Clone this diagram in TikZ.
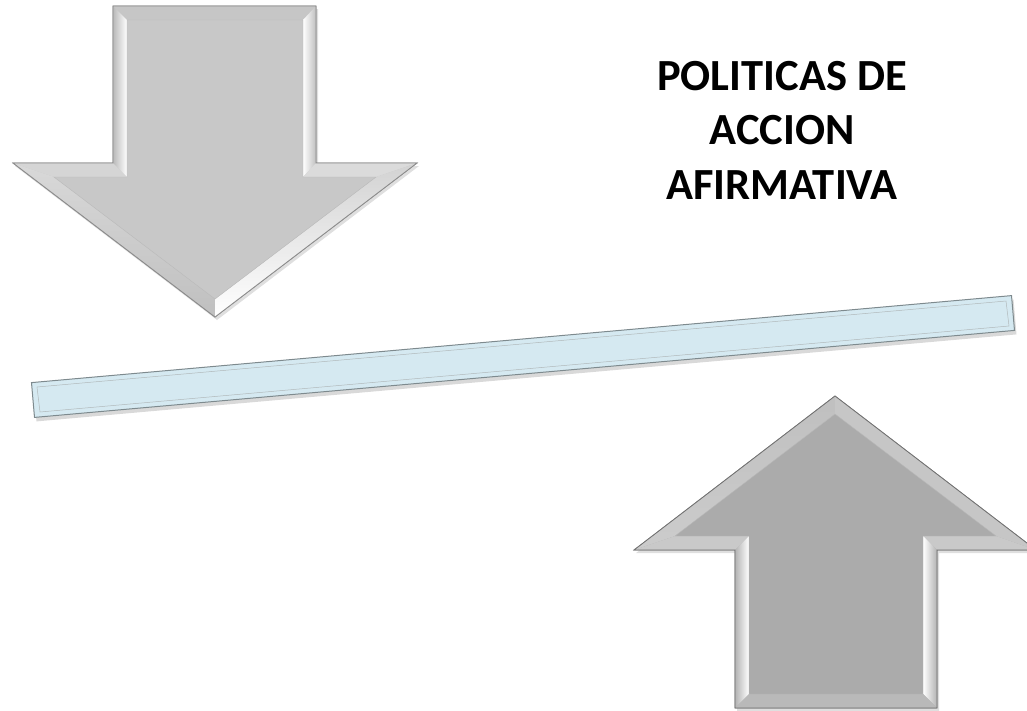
\documentclass[tikz,border=0pt]{standalone}
\usepackage{fontspec}
\setmainfont{Carlito}
\usetikzlibrary{shadows}
\definecolor{edgegray}{HTML}{8C8C8C}
\definecolor{dnbase}{HTML}{C8C8C8}
\definecolor{upbase}{HTML}{ABABAB}
\definecolor{barblue}{HTML}{D5E9F1}
\definecolor{baredge}{HTML}{7E8A8E}
\tikzset{
  arrowouter/.style={draw=edgegray, line width=0.8pt, line join=miter,
     drop shadow={opacity=0.25, shadow xshift=2pt, shadow yshift=-3pt}},
  face/.style={draw=none},
  innerline/.style={draw=edgegray!60, line width=0.4pt},
  barshape/.style={draw=baredge, line width=1pt, fill=barblue,
     drop shadow={opacity=0.3, shadow xshift=2pt, shadow yshift=-4pt}},
  title/.style={font=\bfseries\fontsize{44.5}{54.5}\selectfont, align=center, inner sep=0pt, anchor=north}
}
\begin{document}
\begin{tikzpicture}[x=1pt,y=-1pt]
\useasboundingbox (0,0) rectangle (1027,710);
\clip (0,0) rectangle (1027,710);

% ---------- down arrow ----------
\path[arrowouter, fill=dnbase] (113,6) -- (316,6) -- (316,163) -- (417,163) -- (215,317) -- (13,163) -- (113,163) -- cycle;
\fill[face, fill=gray!45] (113,6) -- (316,6) -- (303,20) -- (127,20) -- cycle;
\shade[face, left color=gray!55, right color=white] (113,6) -- (127,20) -- (127,177) -- (113,163) -- cycle;
\shade[face, left color=white, right color=gray!50] (316,6) -- (303,20) -- (303,177) -- (316,163) -- cycle;
\fill[face, fill=gray!33] (13,163) -- (113,163) -- (127,177) -- (54,177) -- cycle;
\fill[face, fill=gray!28] (316,163) -- (417,163) -- (376,177) -- (303,177) -- cycle;
\shade[face, top color=gray!30, bottom color=gray!50] (13,163) -- (54,177) -- (215,299) -- (215,317) -- cycle;
\shade[face, top color=gray!35, bottom color=white] (417,163) -- (376,177) -- (215,299) -- (215,317) -- cycle;
\path[innerline, fill=dnbase] (127,20) -- (303,20) -- (303,177) -- (376,177) -- (215,299) -- (54,177) -- (127,177) -- cycle;
\draw[edgegray, line width=0.8pt, line join=miter] (113,6) -- (316,6) -- (316,163) -- (417,163) -- (215,317) -- (13,163) -- (113,163) -- cycle;

% ---------- up arrow ----------
\path[arrowouter, fill=upbase] (835,396) -- (1036,550) -- (937,550) -- (937,708) -- (735,708) -- (735,550) -- (634,550) -- cycle;
\shade[face, top color=gray!50, bottom color=gray!40] (835,396) -- (835,414) -- (675,536) -- (634,550) -- cycle;
\fill[face, fill=gray!45] (835,396) -- (835,414) -- (996,536) -- (1036,550) -- cycle;
\fill[face, fill=gray!42] (634,550) -- (675,536) -- (749,536) -- (735,550) -- cycle;
\fill[face, fill=gray!42] (1036,550) -- (996,536) -- (923,536) -- (937,550) -- cycle;
\shade[face, left color=gray!60, right color=white] (735,550) -- (749,536) -- (749,694) -- (735,708) -- cycle;
\shade[face, left color=white, right color=gray!60] (937,550) -- (923,536) -- (923,694) -- (937,708) -- cycle;
\fill[face, fill=gray!55] (735,708) -- (749,694) -- (923,694) -- (937,708) -- cycle;
\path[innerline, fill=upbase] (835,414) -- (996,536) -- (923,536) -- (923,694) -- (749,694) -- (749,536) -- (675,536) -- cycle;
\draw[edgegray!80!black, line width=0.8pt, line join=miter] (835,396) -- (1036,550) -- (937,550) -- (937,708) -- (735,708) -- (735,550) -- (634,550) -- cycle;

% ---------- bar ----------
\path[barshape] (31.5,382.6) -- (1011.5,295.6) -- (1014.5,330.4) -- (34.5,417.4) -- cycle;
\draw[baredge!60, line width=0.5pt] (37,387) -- (1006,301) -- (1009,326) -- (40,412) -- cycle;

% ---------- title ----------
\node[title] (t) at (782,61) {POLITICAS DE\\ACCION\\AFIRMATIVA};
\end{tikzpicture}
\end{document}
